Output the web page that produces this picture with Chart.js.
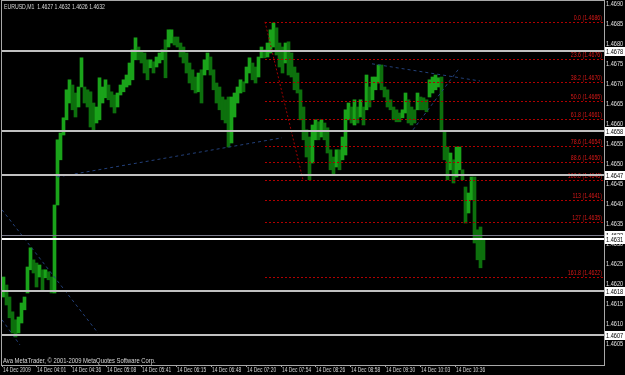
<!DOCTYPE html>
<html>
<head>
<meta charset="utf-8">
<script src="https://cdn.jsdelivr.net/npm/chart.js@4.4.1/dist/chart.umd.min.js"></script>
<style>
  html, body { margin: 0; padding: 0; background: #000; }
  canvas { display: block; }
</style>
</head>
<body>
<canvas id="priceChart" width="625" height="375"></canvas>
<script>
// EURUSD M1, one column = 3 one-minute bars
const barsPerColumn = 3;

const barHigh = [
    1.46215, 1.46195, 1.46165, 1.46128, 1.46108, 1.46115, 1.46150, 1.46165, 1.46240, 1.46288,
    1.46258, 1.46250, 1.46245, 1.46233, 1.46233, 1.46228, 1.46215, 1.46395, 1.46558, 1.46575,
    1.46613, 1.46683, 1.46708, 1.46695, 1.46675, 1.46690, 1.46763, 1.46690, 1.46683, 1.46678,
    1.46650, 1.46640, 1.46713, 1.46690, 1.46708, 1.46695, 1.46678, 1.46670, 1.46675, 1.46695,
    1.46708, 1.46720, 1.46750, 1.46783, 1.46813, 1.46790, 1.46778, 1.46775, 1.46758, 1.46758,
    1.46753, 1.46765, 1.46775, 1.46783, 1.46808, 1.46833, 1.46833, 1.46815, 1.46815, 1.46800,
    1.46790, 1.46775, 1.46750, 1.46733, 1.46715, 1.46725, 1.46733, 1.46758, 1.46775, 1.46765,
    1.46733, 1.46700, 1.46690, 1.46665, 1.46658, 1.46665, 1.46665, 1.46675, 1.46690, 1.46708,
    1.46703, 1.46740, 1.46763, 1.46750, 1.46740, 1.46765, 1.46790, 1.46783, 1.46800, 1.46833,
    1.46850, 1.46838, 1.46800, 1.46790, 1.46800, 1.46803, 1.46775, 1.46740, 1.46725, 1.46683,
    1.46640, 1.46583, 1.46565, 1.46595, 1.46608, 1.46603, 1.46608, 1.46600, 1.46588, 1.46533,
    1.46515, 1.46533, 1.46533, 1.46565, 1.46633, 1.46650, 1.46640, 1.46658, 1.46640, 1.46658,
    1.46640, 1.46720, 1.46690, 1.46715, 1.46715, 1.46745, 1.46745, 1.46690, 1.46683, 1.46658,
    1.46640, 1.46633, 1.46625, 1.46633, 1.46675, 1.46658, 1.46640, 1.46633, 1.46675, 1.46665,
    1.46663, 1.46658, 1.46708, 1.46715, 1.46720, 1.46713, 1.46715, 1.46578, 1.46540, 1.46525,
    1.46508, 1.46540, 1.46540, 1.46483, 1.46440, 1.46425, 1.46465, 1.46465, 1.46333, 1.46340,
    1.46308
];

const barLow = [
    1.46165, 1.46145, 1.46113, 1.46075, 1.46065, 1.46075, 1.46100, 1.46133, 1.46175, 1.46233,
    1.46225, 1.46190, 1.46215, 1.46183, 1.46213, 1.46208, 1.46175, 1.46175, 1.46395, 1.46508,
    1.46570, 1.46608, 1.46650, 1.46633, 1.46615, 1.46640, 1.46690, 1.46650, 1.46640, 1.46590,
    1.46583, 1.46600, 1.46608, 1.46650, 1.46663, 1.46658, 1.46640, 1.46625, 1.46640, 1.46670,
    1.46678, 1.46690, 1.46695, 1.46708, 1.46758, 1.46758, 1.46750, 1.46725, 1.46708, 1.46738,
    1.46725, 1.46740, 1.46750, 1.46758, 1.46713, 1.46790, 1.46800, 1.46795, 1.46790, 1.46765,
    1.46750, 1.46725, 1.46700, 1.46683, 1.46675, 1.46678, 1.46650, 1.46720, 1.46733, 1.46720,
    1.46683, 1.46650, 1.46633, 1.46608, 1.46600, 1.46540, 1.46550, 1.46615, 1.46650, 1.46675,
    1.46678, 1.46700, 1.46725, 1.46708, 1.46700, 1.46715, 1.46763, 1.46763, 1.46765, 1.46775,
    1.46790, 1.46770, 1.46740, 1.46725, 1.46750, 1.46720, 1.46715, 1.46683, 1.46675, 1.46608,
    1.46558, 1.46515, 1.46458, 1.46500, 1.46558, 1.46558, 1.46565, 1.46558, 1.46525, 1.46483,
    1.46470, 1.46490, 1.46483, 1.46508, 1.46520, 1.46608, 1.46600, 1.46595, 1.46600, 1.46615,
    1.46595, 1.46633, 1.46640, 1.46658, 1.46683, 1.46700, 1.46683, 1.46665, 1.46640, 1.46633,
    1.46608, 1.46603, 1.46603, 1.46613, 1.46625, 1.46600, 1.46595, 1.46600, 1.46633, 1.46633,
    1.46633, 1.46628, 1.46665, 1.46675, 1.46683, 1.46690, 1.46578, 1.46508, 1.46458, 1.46483,
    1.46450, 1.46465, 1.46483, 1.46458, 1.46350, 1.46375, 1.46408, 1.46300, 1.46258, 1.46238,
    1.46258
];

const timeLabels = [
    "14 Dec 2009", "14 Dec 04:01", "14 Dec 04:36", "14 Dec 05:08", "14 Dec 05:41",
    "14 Dec 06:15", "14 Dec 06:48", "14 Dec 07:20", "14 Dec 07:54", "14 Dec 08:26",
    "14 Dec 08:58", "14 Dec 09:30", "14 Dec 10:03", "14 Dec 10:36"
];
const timeTickBars = [0, 34, 69, 104, 139, 174, 209, 244, 279, 313, 348, 383, 418, 453];

const priceTicks = [
    1.4690, 1.4685, 1.4680, 1.4675, 1.4670, 1.4665, 1.4660, 1.4655, 1.4650,
    1.4645, 1.4640, 1.4635, 1.4630, 1.4625, 1.4620, 1.4615, 1.4610, 1.4605
];

const levelLines = [1.4678, 1.4658, 1.4647, 1.4618, 1.4607];
const whiteLine = 1.4631;
const bidPrice = 1.4632;

const fibLevels = [0, 23.6, 38.2, 50.0, 61.8, 78.6, 88.6, 100.0, 113, 127, 161.8];
const fibLabels = [
    "0.0 (1.4686)", "23.6 (1.4676)", "38.2 (1.4670)", "50.0 (1.4665)", "61.8 (1.4661)",
    "78.6 (1.4654)", "88.6 (1.4650)", "100.0 (1.4646)", "113 (1.4641)", "127 (1.4635)",
    "161.8 (1.4622)"
];
const fibHigh = 1.46853;
const fibLow = 1.46458;
const fibHighBar = 263;
const fibLowBar = 301;

// trendlines: [bar, price] pairs
const trendLines = [
    [[55, 1.46465], [280, 1.46563]],
    [[0, 1.46383], [96, 1.46075]],
    [[0, 1.46108], [18, 1.46045]],
    [[370, 1.46748], [478, 1.46705]],
    [[411, 1.46583], [456, 1.46733]]
];

const textFont = '"Liberation Sans", Arial, sans-serif';

const barData = barHigh.map((h, i) => ({
    x: i * barsPerColumn + barsPerColumn / 2,
    y: [barLow[i], h]
}));

const barColors = barHigh.map((h, i) => {
    if (i === 0) return "#1aa31a";
    const mid = (h + barLow[i]) / 2;
    const prev = (barHigh[i - 1] + barLow[i - 1]) / 2;
    return mid >= prev ? "#1aa31a" : "#0d700d";
});

const lineSets = trendLines.map(seg => ({
    type: "line",
    data: seg.map(p => ({ x: p[0], y: p[1] })),
    borderColor: "#23407a",
    borderWidth: 1,
    borderDash: [3, 3],
    pointRadius: 0,
    order: 0
}));

lineSets.push({
    type: "line",
    data: [{ x: fibHighBar, y: fibHigh }, { x: fibLowBar, y: fibLow }],
    borderColor: "#a00000",
    borderWidth: 1,
    borderDash: [2, 2],
    pointRadius: 0,
    order: 0
});

function crisp(v) {
    return Math.round(v) + 0.5;
}

// MetaTrader uses a narrow small font, squeeze the text horizontally
function narrowText(ctx, str, x, y, align, color, squeeze) {
    ctx.save();
    ctx.translate(x, y);
    ctx.scale(squeeze, 1);
    ctx.textAlign = align;
    ctx.fillStyle = color;
    ctx.fillText(str, 0, 0);
    ctx.restore();
}

const overlay = {
    id: "overlay",
    afterDatasetsDraw(chart) {
        const { ctx, chartArea: a, scales: { x, y } } = chart;
        ctx.save();
        ctx.beginPath();
        ctx.rect(a.left, a.top, a.width, a.height);
        ctx.clip();

        // fibonacci levels
        const x0 = x.getPixelForValue(fibHighBar);
        ctx.font = "7.5px " + textFont;
        ctx.textBaseline = "bottom";
        fibLevels.forEach((lv, i) => {
            const price = fibHigh - (fibHigh - fibLow) * lv / 100;
            const py = crisp(y.getPixelForValue(price));
            ctx.strokeStyle = "#b00000";
            ctx.lineWidth = 1;
            ctx.setLineDash([2, 2]);
            ctx.beginPath();
            ctx.moveTo(x0, py);
            ctx.lineTo(a.right - 1, py);
            ctx.stroke();
            narrowText(ctx, fibLabels[i], a.right - 2, py - 1, "right", "#d81818", 0.7);
        });
        ctx.setLineDash([]);

        // horizontal levels
        levelLines.forEach(p => {
            const py = Math.round(y.getPixelForValue(p));
            ctx.fillStyle = "#c0c0c0";
            ctx.fillRect(a.left, py - 1, a.width, 2);
        });
        let py = Math.round(y.getPixelForValue(whiteLine));
        ctx.fillStyle = "#ffffff";
        ctx.fillRect(a.left, py - 1, a.width, 2);
        py = crisp(y.getPixelForValue(bidPrice));
        ctx.strokeStyle = "#7a7a8a";
        ctx.beginPath();
        ctx.moveTo(a.left, py);
        ctx.lineTo(a.right, py);
        ctx.stroke();

        // text on chart
        ctx.font = "7.5px " + textFont;
        ctx.textBaseline = "middle";
        narrowText(ctx, "EURUSD,M1  1.4627 1.4632 1.4626 1.4632", a.left + 2, a.top + 6, "left", "#d8d8d8", 0.69);
        narrowText(ctx, "Ava MetaTrader, \u00a9 2001-2009 MetaQuotes Software Corp.", a.left + 1, a.bottom - 4, "left", "#d8d8d8", 0.78);
        ctx.restore();
    },
    afterDraw(chart) {
        const { ctx, chartArea: a, scales: { x, y } } = chart;
        ctx.save();
        ctx.strokeStyle = "#a8a8a8";
        ctx.lineWidth = 1;
        ctx.strokeRect(a.left - 0.5, a.top - 0.5, a.width + 1, a.height + 1);

        // axis labels from the scales' own ticks
        ctx.font = "7.5px " + textFont;
        ctx.textBaseline = "middle";
        y.ticks.forEach(t => {
            narrowText(ctx, t.label, a.right + 2, Math.round(y.getPixelForValue(t.value)) + 0.5, "left", "#e0e0e0", 0.75);
        });
        ctx.font = "7px " + textFont;
        ctx.textBaseline = "top";
        x.ticks.forEach(t => {
            narrowText(ctx, t.label, x.getPixelForValue(t.value) + 1, a.bottom + 2, "left", "#d0d0d0", 0.7);
        });

        // price labels of the lines
        ctx.font = "7.5px " + textFont;
        ctx.textBaseline = "middle";
        levelLines.concat([bidPrice, whiteLine]).forEach(p => {
            const py = Math.round(y.getPixelForValue(p));
            ctx.fillStyle = "#ffffff";
            ctx.fillRect(a.right + 1, py - 4, 20, 9);
            narrowText(ctx, p.toFixed(4), a.right + 2, py + 0.5, "left", "#000000", 0.75);
        });
        ctx.restore();
    }
};

new Chart(document.getElementById("priceChart"), {
    type: "bar",
    data: {
        datasets: [
            {
                data: barData,
                backgroundColor: barColors,
                borderWidth: 0,
                barThickness: 3,
                order: 1
            },
            ...lineSets
        ]
    },
    options: {
        responsive: false,
        animation: false,
        devicePixelRatio: 1,
        layout: { padding: { left: 2, top: 1, right: 0, bottom: 0 } },
        plugins: {
            legend: { display: false },
            tooltip: { enabled: false }
        },
        scales: {
            x: {
                type: "linear",
                min: 0,
                max: 602,
                offset: false,
                afterBuildTicks: s => {
                    s.ticks = timeTickBars.map(v => ({ value: v }));
                },
                afterFit: s => { s.height = 10; },
                grid: {
                    offset: false,
                    drawOnChartArea: false,
                    drawTicks: true,
                    tickLength: 2,
                    color: "#a8a8a8"
                },
                border: { display: false },
                ticks: {
                    display: false,
                    autoSkip: false,
                    maxRotation: 0,
                    callback: (v, i) => timeLabels[i]
                }
            },
            y: {
                position: "right",
                min: 1.45995,
                max: 1.46905,
                beginAtZero: false,
                afterBuildTicks: s => {
                    s.ticks = priceTicks.map(v => ({ value: v }));
                },
                afterFit: s => { s.width = 21; },
                grid: {
                    drawOnChartArea: false,
                    drawTicks: true,
                    tickLength: 1,
                    color: "#a8a8a8"
                },
                border: { display: false },
                ticks: {
                    display: false,
                    callback: v => v.toFixed(4)
                }
            }
        }
    },
    plugins: [overlay]
});
</script>
</body>
</html>
